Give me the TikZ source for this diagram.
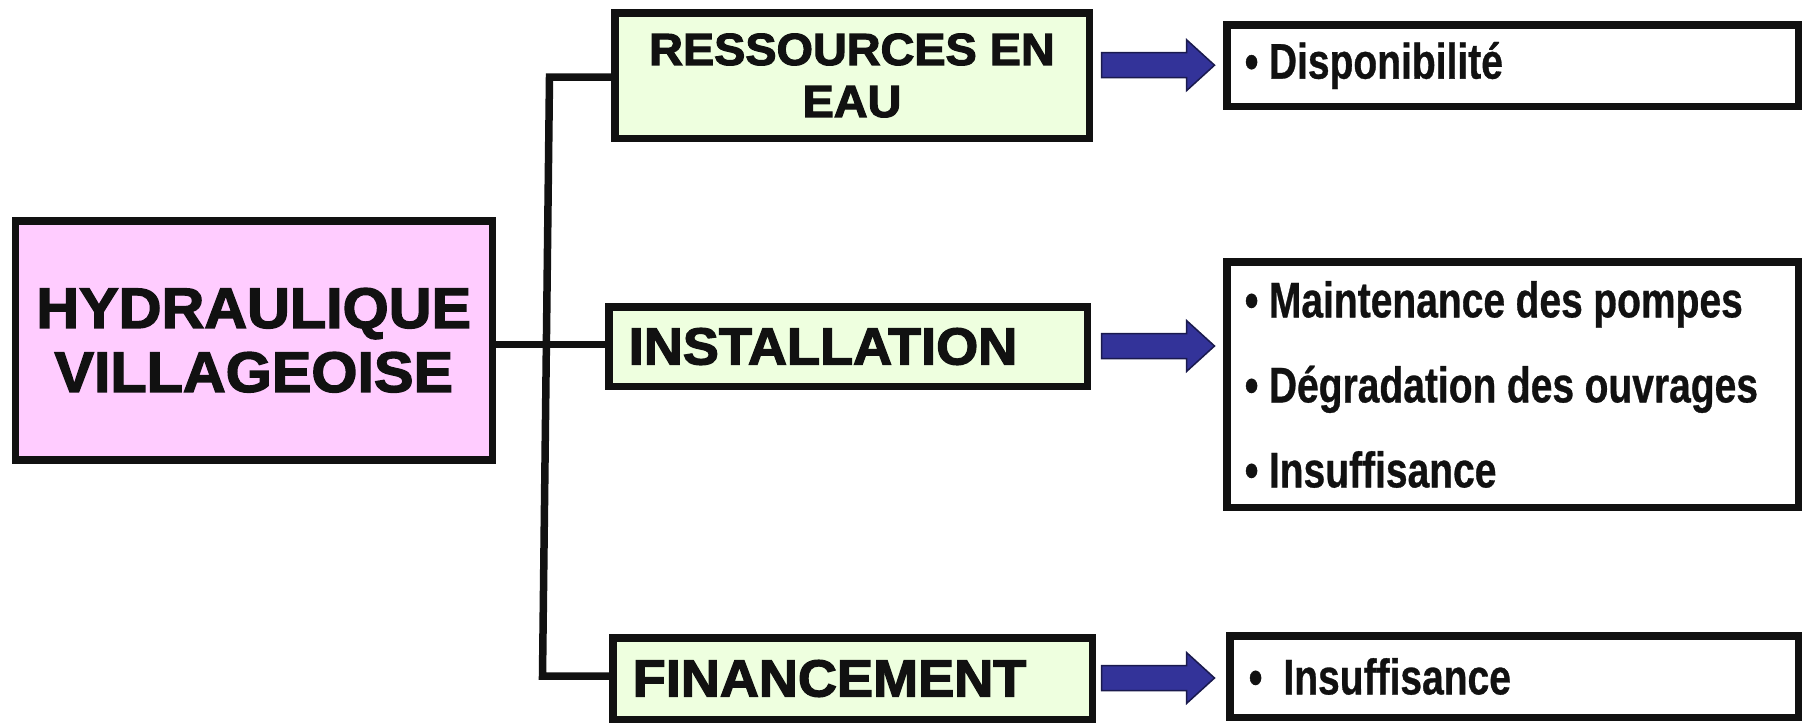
\documentclass[tikz,border=0pt]{standalone}
\usepackage{fontspec}
\setmainfont{Liberation Sans}
\newfontfamily\titlefont[FakeBold=2.5,FakeStretch=1.04]{Liberation Sans Bold}
\newfontfamily\itemfont[FakeStretch=0.78,FakeBold=0.6]{Liberation Sans Bold}
\newcommand\narrowsp{\spaceskip=10.5pt\relax}
\definecolor{pinkfill}{HTML}{FFCCFF}
\definecolor{greenfill}{HTML}{EEFFDF}
\definecolor{arrowfill}{HTML}{333399}
\definecolor{arrowline}{HTML}{1A1A4D}
\definecolor{ink}{HTML}{111111}
\begin{document}
\begin{tikzpicture}[x=1pt,y=-1pt,
  boxline/.style={draw=ink, line width=7.5pt},
  mainbox/.style={boxline, fill=pinkfill, align=center, text=ink,
    font=\titlefont\fontsize{57}{64}\selectfont},
  catbox/.style={boxline, fill=greenfill, text=ink, inner ysep=0pt},
  itembox/.style={boxline, fill=white, text=ink, inner ysep=0pt, align=left,
    font=\itemfont\fontsize{50}{85}\selectfont},
  trunk/.style={draw=ink, line width=7.5pt, line join=miter},
  blockarrow/.style={fill=arrowfill, draw=arrowline, line width=1.5pt, line join=miter}
]
\useasboundingbox (0,0) rectangle (1808,723);

% main box
\node[mainbox, minimum width=477pt, minimum height=239pt] (main) at (253.75,340.25)
  {HYDRAULIQUE\\VILLAGEOISE};

% category boxes
\node[catbox, minimum width=474.5pt, minimum height=125.5pt, align=center,
  font=\titlefont\fontsize{45}{52}\selectfont] (b1) at (852,75.5)
  {RESSOURCES EN\\EAU};
\node[catbox, minimum height=79.5pt, text width=438.5pt, inner xsep=20pt, align=left,
  font=\titlefont\fontsize{52}{60}\selectfont] (b2) at (848,346.5)
  {INSTALLATION};
\node[catbox, minimum height=81.5pt, text width=439.5pt, inner xsep=20pt, align=left,
  font=\titlefont\fontsize{52}{60}\selectfont] (b3) at (852.5,678.5)
  {FINANCEMENT};

% item boxes
\node[itembox, minimum height=81.5pt, text width=535.5pt, inner xsep=18pt] (r1) at (1512.5,65.5)
  {\narrowsp • Disponibilité};
\node[itembox, minimum height=245.5pt, text width=535.5pt, inner xsep=18pt] (r2) at (1512.5,384.5)
  {\narrowsp • Maintenance des pompes\\• Dégradation des ouvrages\\• Insuffisance};
\node[itembox, minimum height=81.5pt, text width=530.5pt, inner xsep=19pt] (r3) at (1514,676.5)
  {\narrowsp •\ \ Insuffisance};

% connectors
\coordinate (ttop) at (549.5,77);
\coordinate (tbot) at (542.5,676);
\draw[trunk] (ttop -| b1.west) -- (ttop) -- (tbot) -- (tbot -| b3.west);
\draw[trunk] ([yshift=-4pt]main.east) -- ([yshift=-4pt]main.east -| b2.west);

% block arrows
\coordinate (s1) at (1101.5,65.2);
\coordinate (s2) at (1101.5,346);
\coordinate (s3) at (1101.5,678);
\foreach \s in {s1,s2,s3}{
  \draw[blockarrow] (\s) ++(0,-12.5) -- ++(85,0) -- ++(0,-13) -- ++(28,25.5)
    -- ++(-28,25.5) -- ++(0,-13) -- ++(-85,0) -- cycle;
}
\end{tikzpicture}
\end{document}
